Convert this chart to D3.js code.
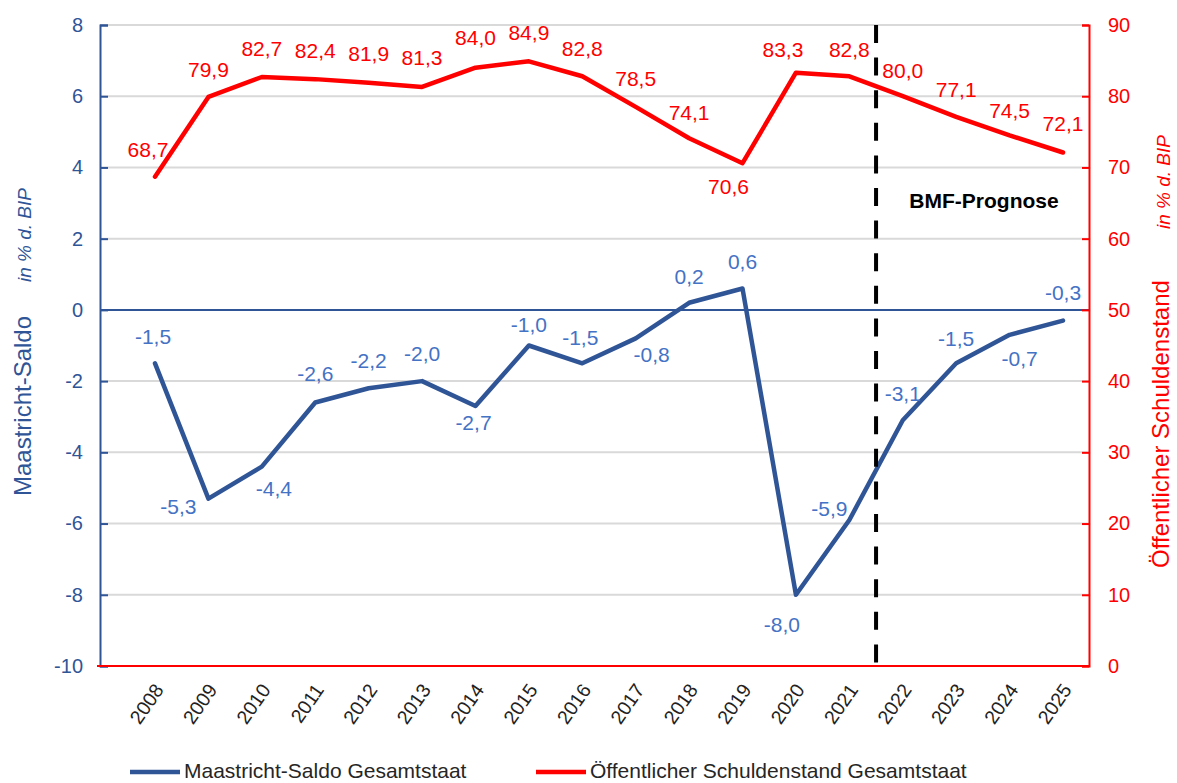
<!DOCTYPE html>
<html>
<head>
<meta charset="utf-8">
<script src="https://cdn.jsdelivr.net/npm/d3@7"></script>
<style>
  body { margin: 0; background: #fff; }
  svg { font-family: "Liberation Sans", Arial, sans-serif; }
</style>
</head>
<body>
<svg id="chart" width="1177" height="783"></svg>
<script>
const jahre = ["2008","2009","2010","2011","2012","2013","2014","2015","2016","2017","2018","2019","2020","2021","2022","2023","2024","2025"];
const saldo = [-1.5,-5.3,-4.4,-2.6,-2.2,-2.0,-2.7,-1.0,-1.5,-0.8,0.2,0.6,-8.0,-5.9,-3.1,-1.5,-0.7,-0.3];
const schulden = [68.7,79.9,82.7,82.4,81.9,81.3,84.0,84.9,82.8,78.5,74.1,70.6,83.3,82.8,80.0,77.1,74.5,72.1];
const ticksLinks = [-10,-8,-6,-4,-2,0,2,4,6,8];
const ticksRechts = [0,10,20,30,40,50,60,70,80,90];

// label placement (dx, dy from the point), as in the original
const saldoOffsets = [[-2,-27],[-30,8],[12,22],[0,-29],[0,-28],[0,-27],[-2,17],[0,-21],[-2,-26],[16,16],[0,-26],[0,-27],[-14,30],[-20,-11],[0,-27],[0,-25],[10,24],[0,-28]];
const schuldenOffsets = [[-7,-27],[0,-27],[0,-28],[0,-28],[0,-29],[0,-29],[0,-30],[0,-29],[0,-28],[0,-28],[0,-26],[-14,23],[-13,-23],[0,-27],[0,-26],[0,-27],[0,-25],[0,-29]];

const blau = "#2F5597";
const blauHell = "#4472C4";
const rot = "#FF0000";

const links = 100, rechts = 1089, oben = 25, unten = 666;

const svg = d3.select("#chart");

const x = d3.scalePoint().domain(jahre).range([155, 1063]);
const yL = d3.scaleLinear().domain([-10, 8]).range([unten, oben]);
const yR = d3.scaleLinear().domain([0, 90]).range([unten, oben]);

const de = d3.formatLocale({ decimal: ",", thousands: ".", grouping: [3], currency: ["", "€"], minus: "-" });
const fmt = de.format(".1f");

// gridlines
svg.append("g")
  .selectAll("line")
  .data(ticksLinks.filter(t => t !== 0 && t !== -10))
  .enter().append("line")
  .attr("x1", links).attr("x2", rechts)
  .attr("y1", d => yL(d)).attr("y2", d => yL(d))
  .style("stroke", "#D9D9D9")
  .style("stroke-width", 2);

// zero line
svg.append("line")
  .attr("x1", links).attr("x2", rechts)
  .attr("y1", yL(0)).attr("y2", yL(0))
  .style("stroke", blau).style("stroke-width", 2);

// left axis
const axL = svg.append("g")
  .attr("transform", `translate(${links},0)`)
  .call(d3.axisLeft(yL).tickValues(ticksLinks).tickSize(-8).tickPadding(17).tickFormat(d => String(d)));
axL.select(".domain").style("stroke", blau).style("stroke-width", 2);
axL.selectAll(".tick line").style("stroke", blau).style("stroke-width", 2);
axL.selectAll(".tick text").style("fill", blau).style("font-size", "20px").attr("font-family", null);

// right axis
const axR = svg.append("g")
  .attr("transform", `translate(${rechts},0)`)
  .call(d3.axisRight(yR).tickValues(ticksRechts).tickSize(-7).tickPadding(19).tickFormat(d => String(d)));
axR.select(".domain").style("stroke", rot).style("stroke-width", 2);
axR.selectAll(".tick line").style("stroke", rot).style("stroke-width", 2);
axR.selectAll(".tick text").style("fill", rot).style("font-size", "20px").attr("font-family", null);

// bottom red line
svg.append("line")
  .attr("x1", links - 3).attr("x2", rechts)
  .attr("y1", unten).attr("y2", unten)
  .style("stroke", rot).style("stroke-width", 2);

// year labels
svg.append("g")
  .selectAll("text")
  .data(jahre)
  .enter().append("text")
  .attr("transform", d => `translate(${x(d) + 4},${unten + 20}) rotate(-55)`)
  .attr("text-anchor", "end")
  .attr("dy", "0.35em")
  .style("font-size", "19.5px")
  .style("fill", "#222")
  .text(d => d);

// lines
const lineSaldo = d3.line().x((d, i) => x(jahre[i])).y(d => yL(d));
const lineSchulden = d3.line().x((d, i) => x(jahre[i])).y(d => yR(d));

svg.append("path")
  .datum(saldo)
  .attr("d", lineSaldo)
  .style("fill", "none").style("stroke", blau).style("stroke-width", 4.5)
  .style("stroke-linejoin", "round").style("stroke-linecap", "round");

svg.append("path")
  .datum(schulden)
  .attr("d", lineSchulden)
  .style("fill", "none").style("stroke", rot).style("stroke-width", 4.5)
  .style("stroke-linejoin", "round").style("stroke-linecap", "round");

// data labels
svg.append("g")
  .selectAll("text")
  .data(saldo)
  .enter().append("text")
  .attr("x", (d, i) => x(jahre[i]) + saldoOffsets[i][0])
  .attr("y", (d, i) => yL(d) + saldoOffsets[i][1])
  .attr("dy", "0.35em")
  .attr("text-anchor", "middle")
  .style("font-size", "21px")
  .style("fill", blauHell)
  .text(d => fmt(d));

svg.append("g")
  .selectAll("text")
  .data(schulden)
  .enter().append("text")
  .attr("x", (d, i) => x(jahre[i]) + schuldenOffsets[i][0])
  .attr("y", (d, i) => yR(d) + schuldenOffsets[i][1])
  .attr("dy", "0.35em")
  .attr("text-anchor", "middle")
  .style("font-size", "21px")
  .style("fill", rot)
  .text(d => fmt(d));

// forecast marker
const xPrognose = (x("2021") + x("2022")) / 2;
svg.append("line")
  .attr("x1", xPrognose).attr("x2", xPrognose)
  .attr("y1", oben).attr("y2", unten - 2)
  .style("stroke", "#000").style("stroke-width", 4)
  .style("stroke-dasharray", "18,14.6");

svg.append("text")
  .attr("x", 984).attr("y", 208)
  .attr("text-anchor", "middle")
  .style("font-size", "21px")
  .style("font-weight", "bold")
  .style("fill", "#000")
  .text("BMF-Prognose");

// axis titles
svg.append("text")
  .attr("transform", "translate(31,406) rotate(-90)")
  .attr("text-anchor", "middle")
  .style("font-size", "24px")
  .style("fill", blau)
  .text("Maastricht-Saldo");

svg.append("text")
  .attr("transform", "translate(31,235) rotate(-90)")
  .attr("text-anchor", "middle")
  .style("font-size", "19px")
  .style("font-style", "italic")
  .style("fill", blau)
  .text("in % d. BIP");

svg.append("text")
  .attr("transform", "translate(1169,424) rotate(-90)")
  .attr("text-anchor", "middle")
  .style("font-size", "24px")
  .style("fill", rot)
  .text("Öffentlicher Schuldenstand");

svg.append("text")
  .attr("transform", "translate(1170,182) rotate(-90)")
  .attr("text-anchor", "middle")
  .style("font-size", "19px")
  .style("font-style", "italic")
  .style("fill", rot)
  .text("in % d. BIP");

// legend
const legende = [
  { name: "Maastricht-Saldo Gesamtstaat", farbe: blau, x: 130 },
  { name: "Öffentlicher Schuldenstand Gesamtstaat", farbe: rot, x: 536 }
];
const lg = svg.append("g").selectAll("g").data(legende).enter().append("g");
lg.append("line")
  .attr("x1", d => d.x).attr("x2", d => d.x + 50)
  .attr("y1", 772).attr("y2", 772)
  .style("stroke", d => d.farbe).style("stroke-width", 4.5);
lg.append("text")
  .attr("x", d => d.x + 54).attr("y", 778)
  .style("font-size", "21px")
  .style("fill", "#262626")
  .text(d => d.name);
</script>
</body>
</html>
